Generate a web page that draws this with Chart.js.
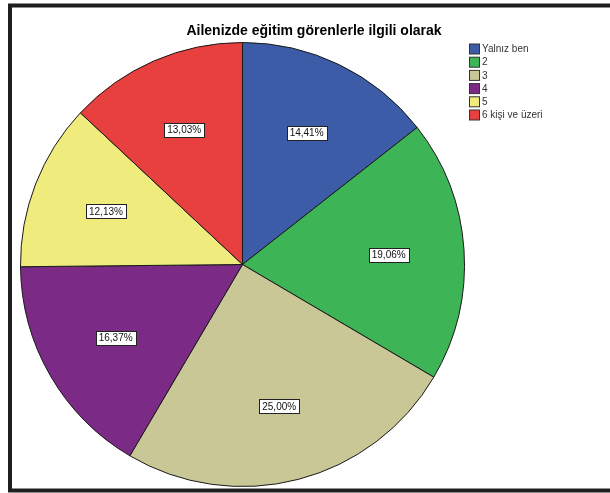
<!DOCTYPE html>
<html>
<head>
<meta charset="utf-8">
<script src="https://cdn.jsdelivr.net/npm/chart.js@4/dist/chart.umd.min.js"></script>
<style>
html,body{margin:0;padding:0;background:#fff;}
#wrap{width:610px;height:493px;position:relative;}
</style>
</head>
<body>
<div id="wrap"><canvas id="c" width="610" height="493"></canvas></div>
<script>
const chartTitle = "Ailenizde eğitim görenlerle ilgili olarak";
const categories = ["Yalnız ben", "2", "3", "4", "5", "6 kişi ve üzeri"];
const percentages = [14.41, 19.06, 25.00, 16.37, 12.13, 13.03];
const sliceColors = ["#3D5CA8", "#3DB557", "#C8C795", "#7B2A86", "#EFEB7D", "#E8403F"];

const fmt = v => v.toFixed(2).replace(".", ",") + "%";

const framePlugin = {
  id: "frame",
  beforeDraw(chart) {
    const ctx = chart.ctx;
    ctx.save();
    ctx.fillStyle = "#fff";
    ctx.fillRect(0, 0, chart.width, chart.height);
    ctx.strokeStyle = "#1e1e1e";
    ctx.lineWidth = 4;
    ctx.strokeRect(10, 5.5, 640, 485);
    ctx.restore();
  }
};

const titlePlugin = {
  id: "customTitle",
  afterDraw(chart) {
    const ctx = chart.ctx;
    ctx.save();
    ctx.font = "bold 14px 'Liberation Sans', Arial, sans-serif";
    ctx.fillStyle = "#000";
    ctx.textAlign = "center";
    ctx.textBaseline = "middle";
    ctx.fillText(chartTitle, 314, 31);
    ctx.restore();
  }
};

const legendPlugin = {
  id: "customLegend",
  afterDraw(chart) {
    const ctx = chart.ctx;
    ctx.save();
    ctx.font = "10px 'Liberation Sans', Arial, sans-serif";
    ctx.textBaseline = "middle";
    ctx.textAlign = "left";
    categories.forEach((label, i) => {
      const y = 49 + i * 13.2;
      ctx.fillStyle = sliceColors[i];
      ctx.fillRect(469.5, y - 5, 10, 10);
      ctx.strokeStyle = "#333";
      ctx.lineWidth = 1;
      ctx.strokeRect(469.5, y - 5, 10, 10);
      ctx.fillStyle = "#333";
      ctx.fillText(label, 482, y + 0.5);
    });
    ctx.restore();
  }
};

const labelPlugin = {
  id: "sliceLabels",
  afterDatasetsDraw(chart) {
    const ctx = chart.ctx;
    const meta = chart.getDatasetMeta(0);
    ctx.save();
    ctx.font = "10px 'Liberation Sans', Arial, sans-serif";
    ctx.textAlign = "center";
    ctx.textBaseline = "middle";
    meta.data.forEach((arc, i) => {
      const p = arc.getProps(["x", "y", "startAngle", "endAngle", "outerRadius"], true);
      const mid = (p.startAngle + p.endAngle) / 2;
      const r = p.outerRadius * 0.66;
      const x = p.x + Math.cos(mid) * r;
      const y = p.y + Math.sin(mid) * r;
      const txt = fmt(percentages[i]);
      const w = ctx.measureText(txt).width + 6;
      const h = 14;
      ctx.fillStyle = "#fff";
      ctx.fillRect(Math.round(x - w / 2) + 0.5, Math.round(y - h / 2) + 0.5, Math.round(w), h);
      ctx.strokeStyle = "#222";
      ctx.lineWidth = 1;
      ctx.strokeRect(Math.round(x - w / 2) + 0.5, Math.round(y - h / 2) + 0.5, Math.round(w), h);
      ctx.fillStyle = "#111";
      ctx.fillText(txt, x, y + 0.5);
    });
    ctx.restore();
  }
};

new Chart(document.getElementById("c"), {
  type: "pie",
  data: {
    labels: categories,
    datasets: [{
      data: percentages,
      backgroundColor: sliceColors,
      borderColor: "#1a1a1a",
      borderWidth: 1,
      hoverOffset: 0
    }]
  },
  options: {
    responsive: false,
    animation: false,
    devicePixelRatio: 1,
    layout: { padding: { left: 20, right: 145, top: 42, bottom: 6 } },
    plugins: {
      legend: { display: false },
      title: { display: false },
      tooltip: { enabled: false }
    }
  },
  plugins: [framePlugin, labelPlugin, titlePlugin, legendPlugin]
});
</script>
</body>
</html>
